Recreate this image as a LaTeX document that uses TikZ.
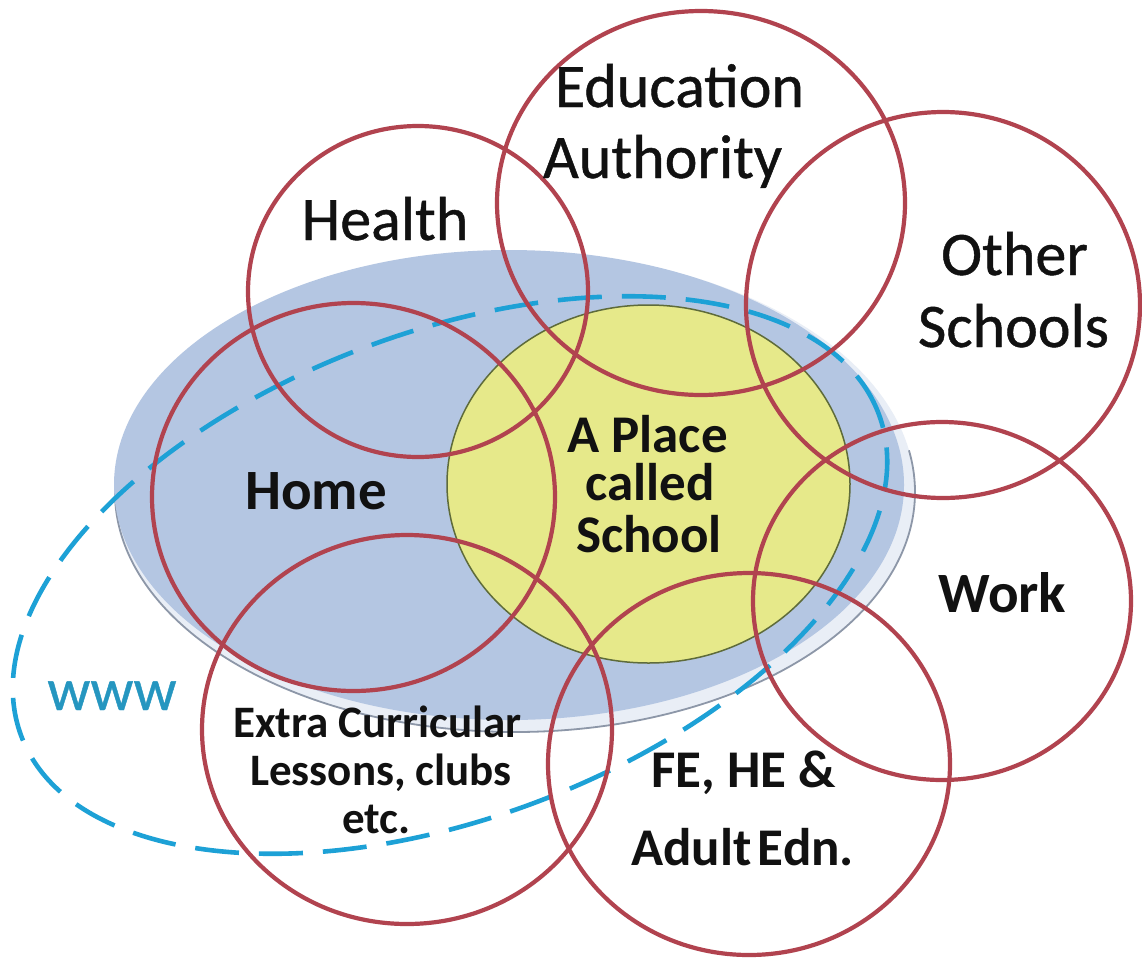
\documentclass[tikz,border=0pt]{standalone}
\usepackage{fontspec}
\setmainfont{Carlito}
\newfontfamily\regfont[FakeBold=0.7]{Carlito}
\definecolor{redC}{HTML}{B1434F}
\definecolor{blueF}{HTML}{B4C6E2}
\definecolor{rimFill}{HTML}{E9EEF6}
\definecolor{rimLine}{HTML}{8D97A8}
\definecolor{yel}{HTML}{E6E98A}
\definecolor{yelLine}{HTML}{5E6B3A}
\definecolor{dashC}{HTML}{1DA1D6}
\definecolor{wwwC}{HTML}{2596C0}
\definecolor{txt}{HTML}{111111}
\begin{document}
\begin{tikzpicture}[x=1pt,y=1pt,
  ring/.style={draw=redC, line width=4.2pt},
  lbl/.style={anchor=base, inner sep=0pt, text=txt},
  regbig/.style={font=\fontsize{62}{70}\regfont},
  boldbig/.style={font=\fontsize{57}{64}\selectfont\bfseries},
  boldmid/.style={font=\fontsize{53}{60}\selectfont\bfseries},
  boldsmall/.style={font=\fontsize{45}{52}\selectfont\bfseries}]
\useasboundingbox (0,0) rectangle (1142,-959);
\fill[white] (0,0) rectangle (1142,-959);

% disc rim (3D edge) and blue face
\fill[rimFill] (515,-492) ellipse [x radius=400pt, y radius=240pt];
\draw[rimLine, line width=1.8pt] (515,-492) ++(175:400pt and 240pt)
  arc [start angle=175, end angle=370, x radius=400pt, y radius=240pt];
\fill[blueF] (509,-485) ellipse [x radius=395pt, y radius=235pt];

% yellow school circle
\filldraw[fill=yel, draw=yelLine, line width=1.5pt] (648.5,-484) ellipse [x radius=201.5pt, y radius=179pt];

% www dashed ellipse
\draw[dashC, line width=4.6pt, dash pattern=on 44pt off 20pt, rotate around={20.6:(450,-575)}]
  (450,-575) ellipse [x radius=458pt, y radius=243pt];

% red circles
\draw[ring] (418,-291.5) ellipse [x radius=170pt, y radius=165.5pt];   % Health
\draw[ring] (701,-203) ellipse [x radius=204pt, y radius=192pt];       % Education
\draw[ring] (943,-305) ellipse [x radius=197pt, y radius=193pt];       % Other Schools
\draw[ring] (942,-601) ellipse [x radius=189pt, y radius=179pt];       % Work
\draw[ring] (749,-764) ellipse [x radius=201pt, y radius=191pt];       % FE HE
\draw[ring] (407,-729.5) ellipse [x radius=205pt, y radius=194.5pt];   % Extra
\draw[ring] (353.5,-497) ellipse [x radius=201.5pt, y radius=194pt];   % Home

% labels
\node[lbl, regbig] (edu1) at (679.5,-107) {Education};
\node[lbl, regbig] (edu2) at (662.5,-178) {Authority};
\node[lbl, regbig] (health) at (385,-240) {Health};
\node[lbl, regbig] (oth1) at (1014.5,-275) {Other};
\node[lbl, regbig] (oth2) at (1013.5,-347) {Schools};
\node[lbl, boldbig] (home) at (316,-509) {Home};
\node[lbl, boldmid] (sch1) at (647.5,-452) {A Place};
\node[lbl, boldmid] (sch2) at (650,-500) {called};
\node[lbl, boldmid] (sch3) at (649,-552) {School};
\node[lbl, boldbig] (work) at (1002.5,-612) {Work};
\node[lbl, font=\fontsize{60}{66}\regfont, text=wwwC] (www) at (112,-710) {www};
\node[lbl, boldsmall] (ex1) at (377.5,-737) {Extra Curricular};
\node[lbl, boldsmall] (ex2) at (381,-785) {Lessons, clubs};
\node[lbl, boldsmall] (ex3) at (376.5,-833) {etc.};
\node[lbl, boldmid] (fe1) at (743.5,-787) {FE, HE \&};
\node[lbl, boldmid] (fe2) at (742.5,-865) {Adult\kern0.12em Edn.};
\end{tikzpicture}
\end{document}
